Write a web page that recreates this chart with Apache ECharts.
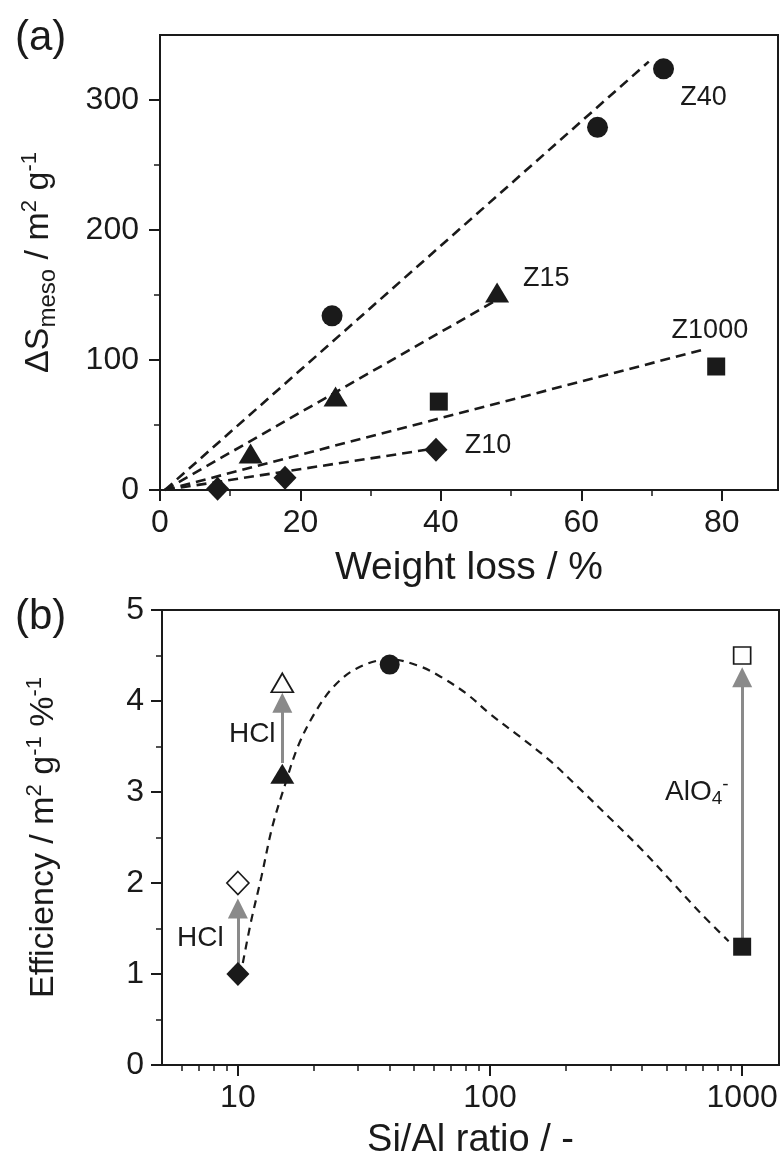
<!DOCTYPE html>
<html>
<head>
<meta charset="utf-8">
<script src="https://cdn.jsdelivr.net/npm/echarts@6/dist/echarts.min.js"></script>
<style>
  html, body { margin: 0; padding: 0; background: #fff; }
  #main { width: 784px; height: 1167px; }
</style>
</head>
<body>
<div id="main"></div>
<script>
// ---- panel (a): mesopore surface vs weight loss ----
var z40 = [[24.5, 134], [62.3, 279], [71.7, 324]];
var z15 = [[12.9, 28], [25, 72], [48, 152]];
var z1000 = [[39.7, 68], [79.2, 95]];
var z10 = [[8.2, 1], [17.8, 9.5], [39.3, 31]];
// dashed fits, from origin to end point
var fitStart = [0.7, 0];
var fitEnd40 = [69.6, 329.5];
var fitEnd15 = [47.9, 146];
var fitEnd1000 = [77.4, 108];
var fitEnd10 = [39.2, 32];
var labelsA = [['Z40', 77.4, 302], ['Z15', 55, 163], ['Z1000', 78.3, 123], ['Z10', 46.7, 34]];
var ticksXa = [0, 20, 40, 60, 80];
var minorXa = [10, 30, 50, 70];
var ticksYa = [0, 100, 200, 300];
var minorYa = [50, 150, 250];

// ---- panel (b): efficiency vs Si/Al ----
var siAl = [10, 15, 40, 1000];
var effParent = [1.0, 3.2, 4.4, 1.3];
var effTreated = [2.0, 4.2, null, 4.5];
var arrowFrom = [1.1, 3.32, null, 1.38];
var arrowTo = [1.72, 3.98, null, 4.26];
var curveSiAl = [10.46, 11.3, 12.4, 13.7, 15.3, 17.3, 20.1, 24, 29.7, 40, 52.8, 63.4, 80.7, 99.8, 131, 172, 226, 297, 402, 527, 673, 884];
var curveEff = [1.12, 1.59, 2.07, 2.62, 3.06, 3.50, 3.86, 4.16, 4.36, 4.46, 4.38, 4.27, 4.08, 3.86, 3.61, 3.35, 3.04, 2.72, 2.36, 2.01, 1.69, 1.36];
var labelsB = [['HCl', 7.1, 1.39], ['HCl', 11.4, 3.63], ['AlO{sub|4}{sup|-}', 661, 3.0]];
var ticksXb = [10, 100, 1000];
var minorXb = [6, 7, 8, 9, 20, 30, 40, 50, 60, 70, 80, 90, 200, 300, 400, 500, 600, 700, 800, 900];
var ticksYb = [0, 1, 2, 3, 4, 5];
var minorYb = [0.5, 1.5, 2.5, 3.5, 4.5];

var FONT = 'Liberation Sans, Arial, sans-serif';
var INK = '#1a1a1a';
var lg = function (v) { return Math.log10(v); };

function majorAxis(grid, min, max, ticks, opt) {
  var a = {
    gridIndex: grid, type: 'value', min: min, max: max,
    axisLine: { show: true, onZero: false, lineStyle: { color: INK, width: 2 } },
    axisTick: { show: true, length: 11, customValues: ticks, lineStyle: { color: INK, width: 2 } },
    axisLabel: { customValues: ticks, fontSize: 32, fontFamily: FONT, color: INK, margin: 17 },
    splitLine: { show: false }
  };
  for (var k in opt) a[k] = opt[k];
  return a;
}
function minorAxis(grid, min, max, ticks, pos) {
  return {
    gridIndex: grid, type: 'value', min: min, max: max, position: pos,
    axisLine: { show: false, onZero: false },
    axisTick: { show: true, length: 6, customValues: ticks, lineStyle: { color: INK, width: 1.5 } },
    axisLabel: { show: false },
    splitLine: { show: false }
  };
}

var dashA = { color: INK, width: 2.6, type: [10, 6] };
function fitLine(end) {
  return { type: 'line', xAxisIndex: 0, yAxisIndex: 0, data: [fitStart, end], showSymbol: false, symbol: 'none', lineStyle: dashA, z: 2, silent: true };
}
function marks(data, sym, size, xi, yi, open) {
  return {
    type: 'scatter', xAxisIndex: xi, yAxisIndex: yi, data: data, symbol: sym, symbolSize: size, z: 5,
    itemStyle: open ? { color: '#fff', borderColor: INK, borderWidth: 1.7, opacity: 1 } : { color: INK, opacity: 1 }
  };
}
var richSmall = {
  sub: { fontSize: 19, fontFamily: FONT, color: INK, padding: [14, 0, 0, 0] },
  sup: { fontSize: 19, fontFamily: FONT, color: INK, padding: [0, 0, 14, 0] }
};
function textSeries(list, xi, yi, conv, size) {
  return {
    type: 'scatter', xAxisIndex: xi, yAxisIndex: yi, symbolSize: 2, z: 6, silent: true,
    itemStyle: { color: 'rgba(0,0,0,0)', opacity: 1 },
    data: list.map(function (d) { return { value: [conv(d[1]), d[2]], name: d[0] }; }),
    label: {
      show: true, position: 'inside', formatter: function (p) { return p.name; },
      fontSize: size, fontFamily: FONT, color: INK, opacity: 1, textBorderWidth: 0, rich: richSmall
    }
  };
}
var ident = function (v) { return v; };

var nameRich = {
  m: { fontSize: 34, fontFamily: FONT, color: INK },
  sub: { fontSize: 24, fontFamily: FONT, color: INK, padding: [18, 0, 0, 0] },
  sup: { fontSize: 22, fontFamily: FONT, color: INK, padding: [0, 0, 18, 0] }
};

// panel (b) data in log10 space for the x axis
var parentPts = siAl.map(function (s, i) { return [lg(s), effParent[i]]; });
var treatedPts = [];
siAl.forEach(function (s, i) { if (effTreated[i] != null) treatedPts.push([lg(s), effTreated[i]]); });
var arrows = [];
siAl.forEach(function (s, i) {
  if (arrowFrom[i] != null) arrows.push({ coords: [[lg(s), arrowFrom[i]], [lg(s), arrowTo[i]]] });
});
var curve = curveSiAl.map(function (s, i) { return [lg(s), curveEff[i]]; });

var chart = echarts.init(document.getElementById('main'));
chart.setOption({
  animation: false,
  backgroundColor: '#fff',
  title: [
    { text: '(a)', left: 10, top: 12, textStyle: { fontSize: 42, fontWeight: 'normal', fontFamily: FONT, color: INK } },
    { text: '(b)', left: 10, top: 591, textStyle: { fontSize: 42, fontWeight: 'normal', fontFamily: FONT, color: INK } }
  ],
  grid: [
    { left: 160, top: 35, width: 618, height: 455, show: true, borderColor: INK, borderWidth: 2, backgroundColor: 'transparent' },
    { left: 162, top: 610, width: 617, height: 455, show: true, borderColor: INK, borderWidth: 2, backgroundColor: 'transparent' }
  ],
  xAxis: [
    majorAxis(0, 0, 88, ticksXa, {
      position: 'bottom', name: 'Weight loss / %', nameLocation: 'middle', nameGap: 59,
      nameTextStyle: { fontSize: 39, fontFamily: FONT, color: INK }
    }),
    minorAxis(0, 0, 88, minorXa, 'bottom'),
    majorAxis(1, lg(5), lg(1400), ticksXb.map(lg), {
      position: 'bottom', name: 'Si/Al ratio / -', nameLocation: 'middle', nameGap: 57,
      nameTextStyle: { fontSize: 38, fontFamily: FONT, color: INK },
      axisLabel: { customValues: ticksXb.map(lg), fontSize: 32, fontFamily: FONT, color: INK, margin: 17,
        formatter: function (v) { return String(Math.round(Math.pow(10, v))); } }
    }),
    minorAxis(1, lg(5), lg(1400), minorXb.map(lg), 'bottom')
  ],
  yAxis: [
    majorAxis(0, 0, 350, ticksYa, {
      position: 'left', nameLocation: 'middle', nameGap: 100, nameRotate: 90,
      name: '{m|ΔS}{sub|meso}{m| / m}{sup|2}{m| g}{sup|-1}',
      nameTextStyle: { fontSize: 34, fontFamily: FONT, color: INK, rich: nameRich },
      axisLabel: { customValues: ticksYa, fontSize: 32, fontFamily: FONT, color: INK, margin: 21 }
    }),
    minorAxis(0, 0, 350, minorYa, 'left'),
    majorAxis(1, 0, 5, ticksYb, {
      position: 'left', nameLocation: 'middle', nameGap: 98, nameRotate: 90,
      name: '{m|Efficiency / m}{sup|2}{m| g}{sup|-1}{m| %}{sup|-1}',
      nameTextStyle: { fontSize: 34, fontFamily: FONT, color: INK, rich: nameRich },
      axisLabel: { customValues: ticksYb, fontSize: 32, fontFamily: FONT, color: INK, margin: 18 }
    }),
    minorAxis(1, 0, 5, minorYb, 'left')
  ],
  series: [
    fitLine(fitEnd40), fitLine(fitEnd15), fitLine(fitEnd1000), fitLine(fitEnd10),
    marks(z40, 'circle', 21, 0, 0),
    marks(z15, 'triangle', [24, 20], 0, 0),
    marks(z1000, 'rect', 18, 0, 0),
    marks(z10, 'diamond', [23, 24], 0, 0),
    textSeries(labelsA, 0, 0, ident, 27),

    {
      type: 'line', xAxisIndex: 2, yAxisIndex: 2, data: curve, smooth: 0.35, showSymbol: false, symbol: 'none',
      lineStyle: { color: INK, width: 2.2, type: [8, 6] }, z: 2, silent: true
    },
    {
      type: 'lines', coordinateSystem: 'cartesian2d', xAxisIndex: 2, yAxisIndex: 2, data: arrows, z: 3,
      symbol: ['none', 'triangle'], symbolSize: [18, 20],
      lineStyle: { color: '#8a8a8a', width: 3, opacity: 1, curveness: 0 }, silent: true
    },
    marks([parentPts[0]], 'diamond', [23, 24], 2, 2),
    marks([parentPts[1]], 'triangle', [24, 20], 2, 2),
    marks([parentPts[2]], 'circle', 20, 2, 2),
    marks([parentPts[3]], 'rect', 18, 2, 2),
    marks([treatedPts[0]], 'diamond', [22, 23], 2, 2, true),
    marks([treatedPts[1]], 'triangle', [22, 19], 2, 2, true),
    marks([treatedPts[2]], 'rect', 17, 2, 2, true),
    textSeries(labelsB, 2, 2, lg, 28)
  ]
});
</script>
</body>
</html>
